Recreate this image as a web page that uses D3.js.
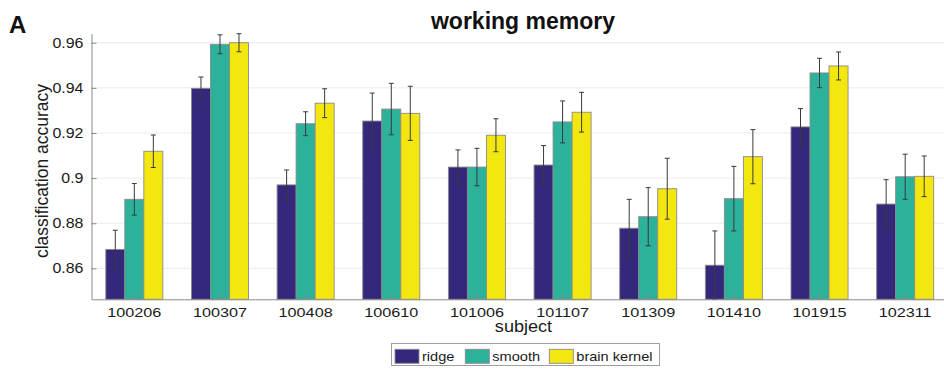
<!DOCTYPE html>
<html>
<head>
<meta charset="utf-8">
<script src="https://cdn.jsdelivr.net/npm/d3@7"></script>
<style>
  html, body { margin: 0; padding: 0; background: #fff; }
  svg { display: block; font-family: "Liberation Sans", Arial, Helvetica, sans-serif; }
</style>
</head>
<body>
<svg id="chart" width="944" height="370"></svg>
<script>
// Subjects on the x axis
const subjects = ["100206", "100307", "100408", "100610", "101006",
                  "101107", "101309", "101410", "101915", "102311"];
// Methods compared (one bar each per subject)
const methods = ["ridge", "smooth", "brain kernel"];
const methodColors = ["#33287c", "#2cb29a", "#f4e60f"];

// Mean classification accuracy per subject
const ridge       = [0.8684, 0.9398, 0.8970, 0.9253, 0.9049, 0.9058, 0.8778, 0.8614, 0.9227, 0.8885];
const smooth      = [0.8906, 0.9593, 0.9241, 0.9306, 0.9049, 0.9249, 0.8829, 0.8909, 0.9466, 0.9006];
const brainKernel = [0.9119, 0.9600, 0.9332, 0.9287, 0.9190, 0.9292, 0.8953, 0.9095, 0.9497, 0.9008];

// Error bar half-widths
const ridgeErr       = [0.0085, 0.0050, 0.0066, 0.0124, 0.0076, 0.0086, 0.0128, 0.0152, 0.0081, 0.0108];
const smoothErr      = [0.0070, 0.0042, 0.0053, 0.0114, 0.0083, 0.0093, 0.0129, 0.0143, 0.0065, 0.0100];
const brainKernelErr = [0.0072, 0.0040, 0.0064, 0.0120, 0.0073, 0.0088, 0.0135, 0.0120, 0.0062, 0.0090];

// Y axis ticks
const yTicks = [0.86, 0.88, 0.9, 0.92, 0.94, 0.96];
const yTickLabels = ["0.86", "0.88", "0.9", "0.92", "0.94", "0.96"];

const seriesValues = [ridge, smooth, brainKernel];
const seriesErrors = [ridgeErr, smoothErr, brainKernelErr];

const svg = d3.select("#chart");

const plot = { left: 91.5, right: 948, top: 33.7, bottom: 299.3 };
const yDomain = [0.8463, 0.964];

// Widen glyphs horizontally by factor k (the figure's type is set wide)
function widen(sel, k) {
  sel.each(function () {
    const w = this.getComputedTextLength();
    d3.select(this)
      .attr("textLength", w * k)
      .attr("lengthAdjust", "spacingAndGlyphs");
  });
}

const x = d3.scaleBand()
  .domain(subjects)
  .range([plot.left, plot.right])
  .paddingInner(0.334)
  .paddingOuter(0.167);

const xInner = d3.scaleBand()
  .domain(methods)
  .range([0, x.bandwidth()]);

const y = d3.scaleLinear().domain(yDomain).range([plot.bottom, plot.top]);

// Horizontal grid lines
svg.append("g")
  .selectAll("line")
  .data(yTicks)
  .join("line")
  .attr("x1", plot.left).attr("x2", plot.right)
  .attr("y1", d => y(d)).attr("y2", d => y(d))
  .attr("stroke", "#ebebeb").attr("stroke-width", 1);

// Bars
const groups = svg.append("g")
  .selectAll("g")
  .data(subjects)
  .join("g")
  .attr("transform", d => `translate(${x(d)},0)`);

methods.forEach((m, mi) => {
  groups.append("rect")
    .attr("x", xInner(m))
    .attr("width", xInner.bandwidth())
    .attr("y", (d, i) => y(seriesValues[mi][i]))
    .attr("height", (d, i) => plot.bottom - y(seriesValues[mi][i]))
    .attr("fill", methodColors[mi])
    .attr("stroke", "#8a8a8a")
    .attr("stroke-width", 0.9);
});

// Error bars
methods.forEach((m, mi) => {
  const cx = xInner(m) + xInner.bandwidth() / 2;
  const eb = groups.append("g")
    .attr("stroke", "#3a3a3a")
    .attr("stroke-width", 1);
  eb.append("line")
    .attr("x1", cx).attr("x2", cx)
    .attr("y1", (d, i) => y(seriesValues[mi][i] - seriesErrors[mi][i]))
    .attr("y2", (d, i) => y(seriesValues[mi][i] + seriesErrors[mi][i]));
  [-1, 1].forEach(s => {
    eb.append("line")
      .attr("x1", cx - 2.5).attr("x2", cx + 2.5)
      .attr("y1", (d, i) => y(seriesValues[mi][i] + s * seriesErrors[mi][i]))
      .attr("y2", (d, i) => y(seriesValues[mi][i] + s * seriesErrors[mi][i]));
  });
});

// Y axis
const yAxis = d3.axisLeft(y)
  .tickValues(yTicks)
  .tickFormat((d, i) => yTickLabels[i])
  .tickSizeInner(-5)
  .tickSizeOuter(0)
  .tickPadding(8);
const gy = svg.append("g")
  .attr("transform", `translate(${plot.left},0)`)
  .call(yAxis);
gy.select(".domain").attr("stroke", "#8a8a8a");
gy.selectAll(".tick line").attr("stroke", "#8a8a8a");
gy.selectAll(".tick text")
  .attr("font-size", "14px")
  .attr("fill", "#1a1a1a")
  .attr("font-family", "Liberation Sans, Arial, sans-serif")
  .call(widen, 1.14);

// X axis
const xAxis = d3.axisBottom(x)
  .tickSizeInner(-6)
  .tickSizeOuter(0)
  .tickPadding(8);
const gx = svg.append("g")
  .attr("transform", `translate(0,${plot.bottom})`)
  .call(xAxis);
gx.select(".domain").attr("stroke", "#8a8a8a");
gx.selectAll(".tick line").attr("stroke", "#8a8a8a");
gx.selectAll(".tick text")
  .attr("font-size", "13.5px")
  .attr("fill", "#1a1a1a")
  .attr("font-family", "Liberation Sans, Arial, sans-serif")
  .call(widen, 1.2);

// Axis titles
svg.append("text")
  .attr("x", 523.5)
  .attr("y", 331.5)
  .attr("text-anchor", "middle")
  .attr("font-size", "16px")
  .attr("fill", "#1a1a1a")
  .text("subject")
  .call(widen, 1.13);

svg.append("text")
  .attr("transform", `translate(48,171) rotate(-90)`)
  .attr("text-anchor", "middle")
  .attr("font-size", "17.5px")
  .attr("fill", "#1a1a1a")
  .text("classification accuracy");

// Chart title and panel letter
svg.append("text")
  .attr("x", 523)
  .attr("y", 29)
  .attr("text-anchor", "middle")
  .attr("font-size", "23px")
  .attr("font-weight", "bold")
  .attr("fill", "#111")
  .text("working memory");

svg.append("text")
  .attr("x", 9)
  .attr("y", 32.5)
  .attr("font-size", "24px")
  .attr("font-weight", "bold")
  .attr("fill", "#111")
  .text("A");

// Legend
const legend = svg.append("g");
legend.append("rect")
  .attr("x", 391.5).attr("y", 343.5)
  .attr("width", 268).attr("height", 22)
  .attr("fill", "#fff")
  .attr("stroke", "#a0a0a0")
  .attr("stroke-width", 1);
const legendX = [395, 465.3, 549.3];
methods.forEach((m, mi) => {
  legend.append("rect")
    .attr("x", legendX[mi]).attr("y", 349.3)
    .attr("width", 24).attr("height", 14)
    .attr("fill", methodColors[mi])
    .attr("stroke", "#8a8a8a")
    .attr("stroke-width", 0.9);
  legend.append("text")
    .attr("x", legendX[mi] + 27)
    .attr("y", 361)
    .attr("font-size", "13.5px")
    .attr("fill", "#1a1a1a")
    .text(m)
    .call(widen, 1.08);
});
</script>
</body>
</html>
